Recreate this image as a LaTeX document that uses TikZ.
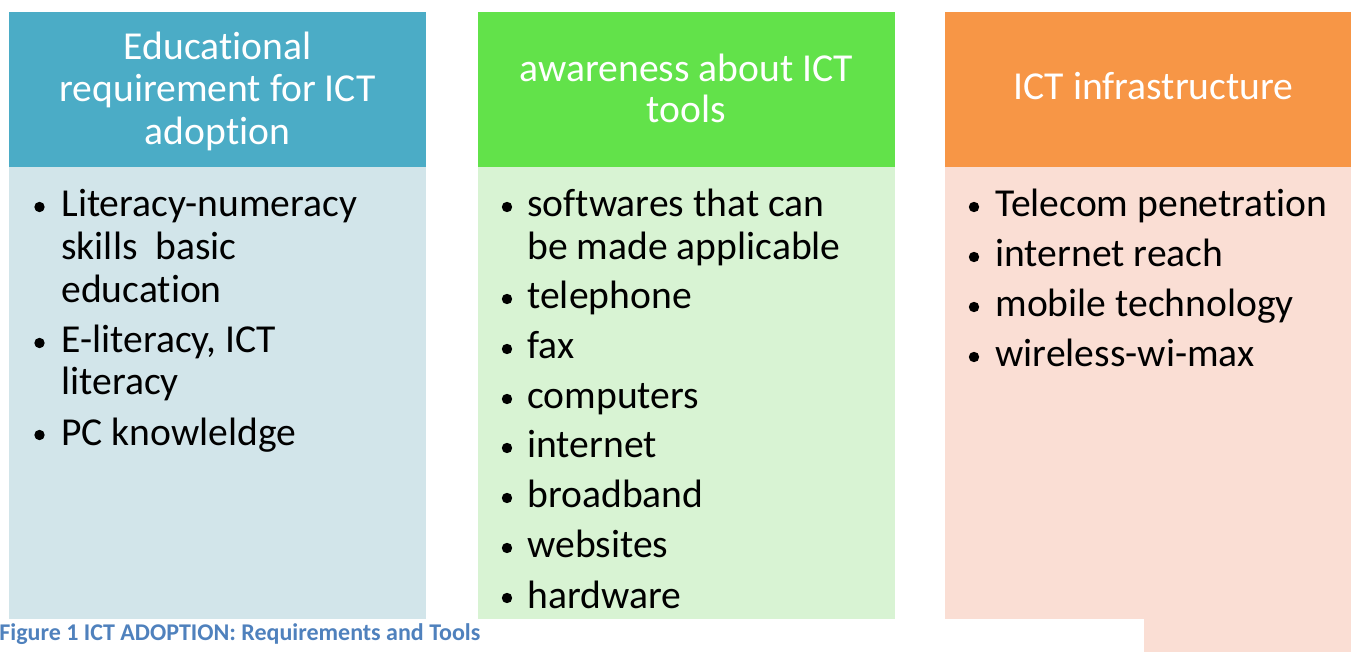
\documentclass[tikz,border=0pt]{standalone}
\usepackage{fontspec}
\setmainfont[Ligatures=NoCommon]{Carlito}

\definecolor{eduhead}{RGB}{75,172,198}
\definecolor{edubody}{RGB}{210,229,234}
\definecolor{awahead}{RGB}{98,226,74}
\definecolor{awabody}{RGB}{216,243,211}
\definecolor{infhead}{RGB}{247,150,70}
\definecolor{infbody}{RGB}{250,222,212}
\definecolor{capblue}{RGB}{79,129,189}

\begin{document}
\begin{tikzpicture}[x=0.5pt,y=-0.5pt,
    head/.style={text=white,anchor=base,inner sep=0pt,font=\fontsize{19.8}{21}\selectfont},
    item/.style={anchor=base west,inner sep=0pt,font=\fontsize{19.8}{21}\selectfont},
    dot/.style={circle,fill=black,inner sep=0pt,minimum size=5.2pt}]
        \useasboundingbox (0,0) rectangle (1351,652);
        \clip (0,0) rectangle (1351,652);

        % educational requirement
        \fill[eduhead] (9,12) rectangle (426,167);
        \fill[edubody] (9,167) rectangle (426,652);
        \node[head] (edu1) at (217.5,60) {Educational};
        \node[head] (edu2) at (217.5,102) {requirement for ICT};
        \node[head] (edu3) at (217.5,145) {adoption};
        \node[dot] (edudot1) at (39.5,207) {};
        \node[item] (literacy) at (61,217) {Literacy-numeracy};
        \node[item] (skills) at (61,260) {skills~ basic};
        \node[item] (education) at (61,303) {education};
        \node[dot] (edudot2) at (39.5,343) {};
        \node[item] (eliteracy) at (61,353) {E-literacy, ICT};
        \node[item] (ictliteracy) at (61,395) {literacy};
        \node[dot] (edudot3) at (39.5,435) {};
        \node[item] (pc) at (61,445) {PC knowleldge};

        % awareness about tools
        \fill[awahead] (478,12) rectangle (895,167);
        \fill[awabody] (478,167) rectangle (895,652);
        \node[head] (awa1) at (686.5,82) {awareness about ICT};
        \node[head] (awa2) at (686.5,123) {tools};
        \node[dot] (awadot1) at (507,207) {};
        \node[item] (softwares) at (527,217) {softwares that can};
        \node[item] (applicable) at (527,260) {be made applicable};
        \node[dot] (awadot2) at (507,299) {};
        \node[item] (telephone) at (527,309) {telephone};
        \node[dot] (awadot3) at (507,349) {};
        \node[item] (fax) at (527,359) {fax};
        \node[dot] (awadot4) at (507,399) {};
        \node[item] (computers) at (527,409) {computers};
        \node[dot] (awadot5) at (507,448) {};
        \node[item] (internet) at (527,458) {internet};
        \node[dot] (awadot6) at (507,498) {};
        \node[item] (broadband) at (527,508) {broadband};
        \node[dot] (awadot7) at (507,548) {};
        \node[item] (websites) at (527,558) {websites};
        \node[dot] (awadot8) at (507,598) {};
        \node[item] (hardware) at (527,608) {hardware};

        % infrastructure
        \fill[infhead] (945,12) rectangle (1362,167);
        \fill[infbody] (945,167) rectangle (1362,652);
        \node[head] (inf1) at (1153.5,100) {ICT infrastructure};
        \node[dot] (infdot1) at (974,207) {};
        \node[item] (telecom) at (995,217) {Telecom penetration};
        \node[dot] (infdot2) at (974,257) {};
        \node[item] (reach) at (995,267) {internet reach};
        \node[dot] (infdot3) at (974,307) {};
        \node[item] (mobile) at (995,317) {mobile technology};
        \node[dot] (infdot4) at (974,357) {};
        \node[item] (wireless) at (995,367) {wireless-wi-max};

        % caption
        \fill[white] (0,619) rectangle (1144,652);
        \node[anchor=base west,inner sep=0pt,text=capblue,font=\bfseries\fontsize{12}{14}\selectfont] (caption) at (-1,640) {Figure 1 ICT ADOPTION: Requirements and Tools};
    \end{tikzpicture}
\end{document}
